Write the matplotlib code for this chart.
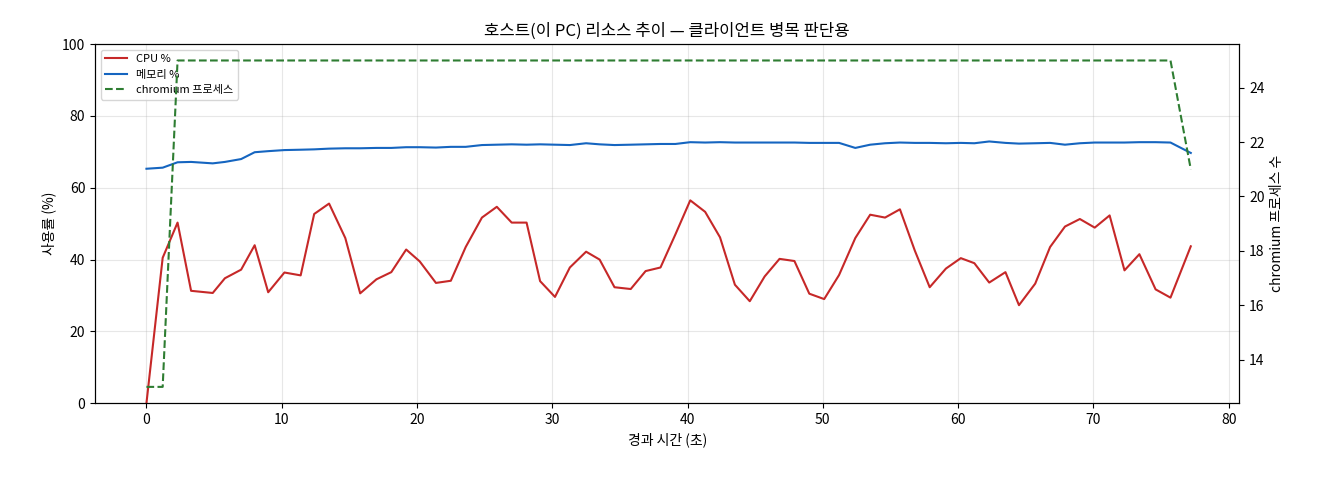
import matplotlib
matplotlib.use("Agg")
import matplotlib.pyplot as plt

plt.rcParams['font.family'] = ['Noto Sans CJK KR', 'DejaVu Sans']

t = [0, 1.2, 2.3, 3.3, 4.9, 5.8, 7.0, 8.0, 9.0, 10.2, 11.4, 12.4, 13.5, 14.7, 15.8, 17.0,
     18.1, 19.2, 20.2, 21.4, 22.5, 23.6, 24.8, 25.9, 27.0, 28.1, 29.1, 30.2, 31.3, 32.5,
     33.5, 34.6, 35.8, 36.9, 38.0, 39.1, 40.2, 41.3, 42.4, 43.5, 44.6, 45.7, 46.8, 47.9,
     49.0, 50.1, 51.2, 52.4, 53.5, 54.6, 55.7, 56.8, 57.9, 59.1, 60.2, 61.2, 62.3, 63.5,
     64.5, 65.7, 66.8, 67.9, 69.0, 70.1, 71.2, 72.3, 73.4, 74.6, 75.7, 77.2]
cpu = [0, 40.5, 50.3, 31.3, 30.7, 34.8, 37.2, 44.0, 30.9, 36.4, 35.6, 52.7, 55.6, 46.0, 30.6, 34.5,
       36.5, 42.8, 39.5, 33.5, 34.1, 43.5, 51.7, 54.7, 50.3, 50.3, 34.0, 29.6, 37.8, 42.2,
       40.0, 32.3, 31.8, 36.8, 37.8, 47.0, 56.5, 53.3, 46.2, 33.0, 28.4, 35.3, 40.2, 39.6,
       30.5, 29.0, 35.7, 46.0, 52.5, 51.7, 54.0, 42.5, 32.3, 37.5, 40.4, 39.0, 33.6, 36.5,
       27.3, 33.3, 43.5, 49.2, 51.3, 48.9, 52.3, 37.0, 41.5, 31.7, 29.4, 43.7]
mem = [65.3, 65.6, 67.1, 67.2, 66.8, 67.2, 68.0, 69.9, 70.2, 70.5, 70.6, 70.7, 70.9, 71.0, 71.0, 71.1,
       71.1, 71.3, 71.3, 71.2, 71.4, 71.4, 71.9, 72.0, 72.1, 72.0, 72.1, 72.0, 71.9, 72.4,
       72.1, 71.9, 72.0, 72.1, 72.2, 72.2, 72.7, 72.6, 72.7, 72.6, 72.6, 72.6, 72.6, 72.6,
       72.5, 72.5, 72.5, 71.1, 72.0, 72.4, 72.6, 72.5, 72.5, 72.4, 72.5, 72.4, 72.9, 72.5,
       72.3, 72.4, 72.5, 72.0, 72.4, 72.6, 72.6, 72.6, 72.7, 72.7, 72.6, 69.7]
procs = [13, 13] + [25] * 67 + [21]

fig, ax = plt.subplots(figsize=(13.2, 4.8), dpi=100)
fig.subplots_adjust(left=0.072, right=0.939, top=0.908, bottom=0.16)

l1, = ax.plot(t, cpu, color='#c62828', lw=1.5, label='CPU %')
l2, = ax.plot(t, mem, color='#1565c0', lw=1.5, label='메모리 %')
ax.set_ylim(0, 100)
ax.set_xlim(-3.8, 80.8)
ax.set_xlabel('경과 시간 (초)')
ax.set_ylabel('사용률 (%)')
ax.grid(alpha=0.3)
ax.set_title('호스트(이 PC) 리소스 추이 — 클라이언트 병목 판단용')

ax2 = ax.twinx()
l3, = ax2.plot(t, procs, color='#2e7d32', lw=1.5, ls='--', label='chromium 프로세스')
ax2.set_ylim(12.4, 25.6)
ax2.set_ylabel('chromium 프로세스 수')

ax.legend(handles=[l1, l2, l3], loc='upper left', fontsize=8)
fig.savefig('out.png')
